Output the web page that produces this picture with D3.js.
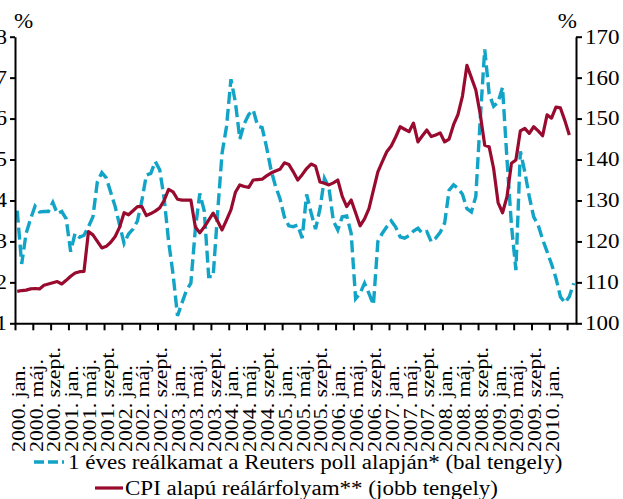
<!DOCTYPE html>
<html>
<head>
<meta charset="utf-8">
<script src="https://cdn.jsdelivr.net/npm/d3@7"></script>
<style>
  html, body { margin: 0; padding: 0; background: #fff; }
  svg { display: block; }
  text { font-family: "Liberation Serif", "DejaVu Serif", serif; fill: #000; }
</style>
</head>
<body>
<svg id="chart" width="623" height="499"></svg>
<script>
// Monthly series, January 2000 onwards
// 1-year real interest rate based on the Reuters poll (%, left axis)
const realRate = [
  3.75, 2.45, 3.2, 3.55, 3.86, 3.72, 3.73, 3.73, 3.95, 3.68, 3.73, 3.55,
  2.75, 3.2, 3.1, 3.15, 3.36, 3.6, 4.46, 4.68, 4.55, 4.2, 3.85, 3.4,
  2.95, 3.18, 3.3, 3.5, 4.0, 4.62, 4.66, 4.95, 4.75, 4.05, 3.0, 2.2,
  1.18, 1.5, 1.8, 1.98, 3.3, 4.17, 3.75, 2.14, 2.14, 3.69, 5.15, 5.8,
  6.96, 6.4, 5.5, 5.88, 6.1, 6.21, 5.82, 5.78, 5.3, 4.75, 4.35, 4.05,
  3.6, 3.38, 3.36, 3.4, 3.08, 4.15, 3.7, 3.3, 3.8, 4.54, 4.32, 3.5,
  3.28, 3.6, 3.62, 3.2, 1.6, 1.73, 1.98, 1.73, 1.45, 3.0, 3.2, 3.36,
  3.5, 3.35, 3.11, 3.08, 3.14, 3.25, 3.32, 3.2, 3.24, 2.99, 3.08, 3.22,
  3.45, 4.25, 4.38, 4.3, 4.15, 3.8, 3.72, 4.1, 6.0, 7.69, 6.6, 6.3,
  6.4, 6.76, 5.0, 3.4, 2.3, 5.2, 4.7, 4.1, 3.6, 3.4, 3.05, 2.75,
  2.45, 2.1, 1.65, 1.5, 1.65, 1.98
];
// CPI-based real exchange rate index (right axis)
const cpiReal = [
  107.8, 108.0, 108.1, 108.4, 108.5, 108.4, 109.3, 109.6, 109.9, 110.2, 109.6, 110.5,
  111.5, 112.3, 112.6, 112.7, 122.4, 121.6, 120.0, 118.4, 118.8, 119.8, 121.2, 123.5,
  127.0, 126.5, 127.5, 128.5, 128.5, 126.3, 126.8, 127.4, 128.2, 130.0, 132.7, 132.1,
  130.3, 130.1, 130.1, 130.1, 123.5, 122.1, 123.5, 125.2, 126.9, 125.0, 122.8, 125.2,
  127.7, 132.0, 133.8, 133.4, 133.2, 135.0, 135.1, 135.2, 136.0, 136.7, 137.2, 137.6,
  139.2, 138.8, 137.0, 135.0, 136.3, 137.8, 138.9, 138.4, 134.5, 134.2, 133.8, 134.3,
  135.0, 131.0, 128.5, 130.1, 127.0, 123.8, 125.5, 128.0, 132.5, 137.0, 139.5, 141.9,
  143.3, 145.5, 148.0, 147.4, 146.8, 148.9, 144.3, 145.8, 147.2, 145.6, 146.0, 146.5,
  144.3, 145.0, 148.5, 151.0, 155.5, 163.0, 160.0, 157.0, 151.0, 143.5, 143.1, 137.8,
  129.5, 127.0, 130.9, 139.1, 139.9, 147.0, 147.6, 146.4, 148.0, 147.0, 145.8, 150.9,
  150.1, 152.8, 152.6, 149.5, 146.0
];
// Category axis labels, one every fourth month
const xLabels = [
  "2000. jan.", "2000. máj.", "2000. szept.",
  "2001. jan.", "2001. máj.", "2001. szept.",
  "2002. jan.", "2002. máj.", "2002. szept.",
  "2003. jan.", "2003. máj.", "2003. szept.",
  "2004. jan.", "2004. máj.", "2004. szept.",
  "2005. jan.", "2005. máj.", "2005. szept.",
  "2006. jan.", "2006. máj.", "2006. szept.",
  "2007. jan.", "2007. máj.", "2007. szept.",
  "2008. jan.", "2008. máj.", "2008. szept.",
  "2009. jan.", "2009. máj.", "2009. szept.",
  "2010. jan."
];
const leftTicks = [1, 2, 3, 4, 5, 6, 7, 8];
const rightTicks = [100, 110, 120, 130, 140, 150, 160, 170];
const legendLabels = [
  "1 éves reálkamat a Reuters poll alapján* (bal tengely)",
  "CPI alapú reálárfolyam** (jobb tengely)"
];

const months = d3.timeMonths(new Date(2000, 0, 1), new Date(2010, 6, 1));
const nCat = months.length;

const BLUE = "#12a4c6";
const RED = "#990a2f";

const svg = d3.select("#chart");
const plotLeft = 15, plotRight = 576, plotTop = 36.7, plotBottom = 323.3;

const xBand = d3.scaleBand().domain(d3.range(nCat)).range([plotLeft, plotRight]).padding(0);
const xEdge = d3.scaleLinear().domain([0, nCat]).range([plotLeft, plotRight]);
const yL = d3.scaleLinear().domain([1, 8]).range([plotBottom, plotTop]);
const yR = d3.scaleLinear().domain([100, 170]).range([plotBottom, plotTop]);
const xc = i => xBand(i) + xBand.bandwidth() / 2;

// Series lines
svg.append("path")
  .datum(realRate)
  .attr("fill", "none")
  .attr("stroke", BLUE)
  .attr("stroke-width", 3.4)
  .attr("stroke-dasharray", "12,5")
  .attr("d", d3.line().x((d, i) => xc(i)).y(d => yL(d)));

svg.append("path")
  .datum(cpiReal)
  .attr("fill", "none")
  .attr("stroke", RED)
  .attr("stroke-width", 3.2)
  .attr("stroke-linejoin", "round")
  .attr("d", d3.line().x((d, i) => xc(i)).y(d => yR(d)));

// Axes
function styleAxis(g) {
  g.selectAll("path, line").attr("stroke", "#000").attr("stroke-width", 2);
  g.selectAll("text").attr("font-size", 20).attr("font-family", "Liberation Serif, serif").attr("fill", "#000");
}

svg.append("g")
  .attr("transform", `translate(0,${plotBottom})`)
  .call(d3.axisBottom(xEdge).tickValues(d3.range(0, nCat, 4)).tickSize(7).tickSizeOuter(0).tickFormat(""))
  .call(styleAxis);

svg.append("g")
  .attr("transform", `translate(${plotLeft},0)`)
  .call(d3.axisLeft(yL).tickValues(leftTicks).tickSize(5).tickSizeOuter(0).tickPadding(3).tickFormat(d3.format("d")))
  .call(styleAxis);

svg.append("g")
  .attr("transform", `translate(${plotRight},0)`)
  .call(d3.axisRight(yR).tickValues(rightTicks).tickSize(6).tickSizeOuter(0).tickPadding(3).tickFormat(d3.format("d")))
  .call(styleAxis);

// Unit labels
svg.append("text").attr("x", 14).attr("y", 28).attr("font-size", 20).text("%");
svg.append("text").attr("x", 577).attr("y", 28).attr("font-size", 20).attr("text-anchor", "end").text("%");

// Rotated month labels
svg.append("g").selectAll("text")
  .data(xLabels)
  .join("text")
  .attr("font-size", 19)
  .attr("transform", (d, k) => `translate(${xc(k * 4) + 7.5},452) rotate(-90)`)
  .text(d => d);

// Legend
const lg = svg.append("g");
lg.append("line").attr("x1", 34).attr("x2", 64).attr("y1", 462).attr("y2", 462)
  .attr("stroke", BLUE).attr("stroke-width", 3.4).attr("stroke-dasharray", "10,4");
lg.append("text").attr("x", 68).attr("y", 469).attr("font-size", 20).text(legendLabels[0]);
lg.append("line").attr("x1", 95).attr("x2", 123).attr("y1", 488).attr("y2", 488)
  .attr("stroke", RED).attr("stroke-width", 3.2);
lg.append("text").attr("x", 125).attr("y", 495).attr("font-size", 20).text(legendLabels[1]);

// The typeface in use is a little wider than Liberation Serif: widen every label
svg.selectAll("text").each(function () {
  const w = this.getComputedTextLength();
  d3.select(this).attr("textLength", w * 1.15).attr("lengthAdjust", "spacingAndGlyphs");
});
</script>
</body>
</html>
